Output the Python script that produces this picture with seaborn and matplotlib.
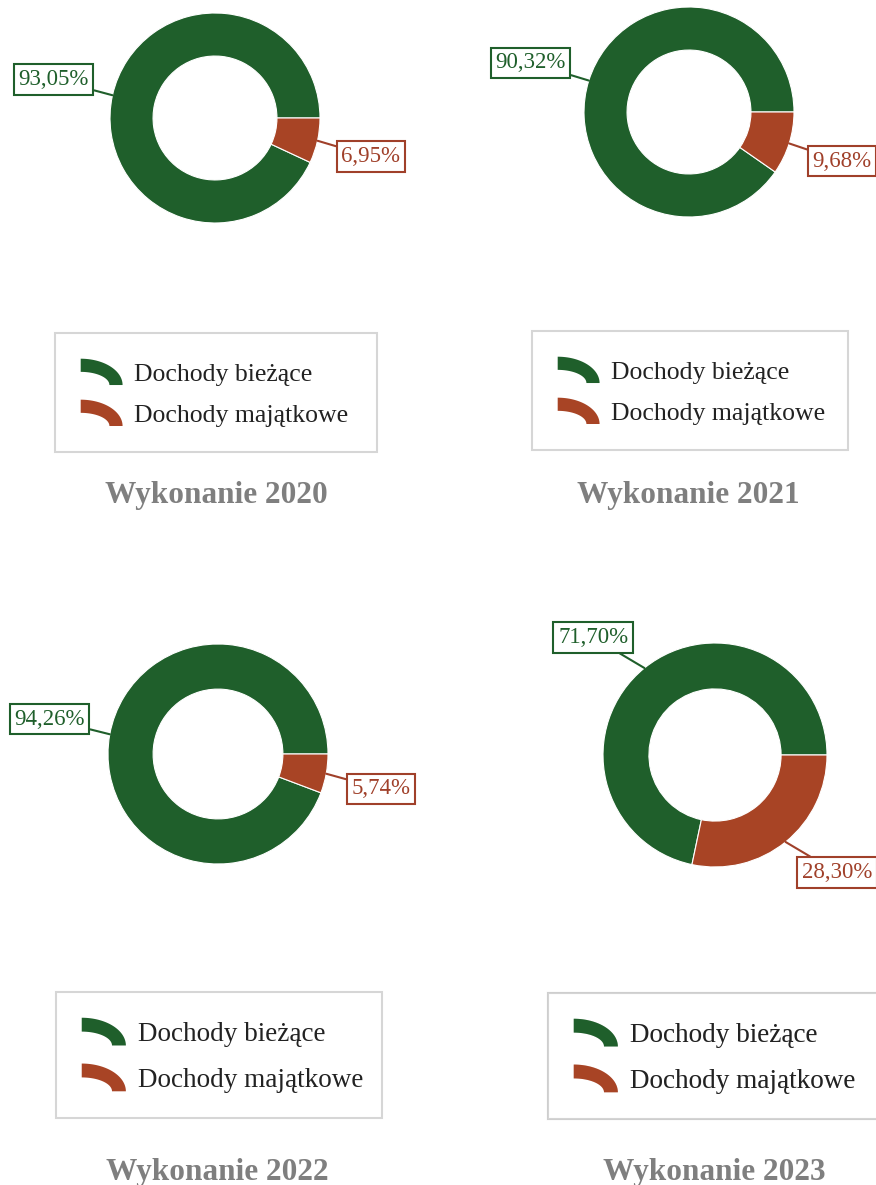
import numpy as np
import matplotlib
matplotlib.use("Agg")
import matplotlib.pyplot as plt
import matplotlib.patches as mpatches
from matplotlib.legend_handler import HandlerPatch
import seaborn as sns

sns.set_theme(style="white")
plt.rcParams['font.family'] = ['Liberation Serif', 'DejaVu Serif']

# data
years = ['2020', '2021', '2022', '2023']
dochody_biezace = [93.05, 90.32, 94.26, 71.70]
dochody_majatkowe = [6.95, 9.68, 5.74, 28.30]
series_names = ['Dochody bieżące', 'Dochody majątkowe']
colors = ['#1f5f2b', '#a84425']
label_colors = ['#1f5f2b', '#a0402a']

# layout (pixels, y from top)
W, H = 876, 1185
centers = [(215, 118), (689, 112), (218, 754), (715, 755)]
radii = [105, 105, 110, 112]
legend_boxes = [(55, 333, 322), (532, 331, 316), (56, 992, 326), (548, 993, 340)]
legend_fs = [18.5, 18.5, 19.5, 19.5]
legend_pad = [1.0, 1.0, 0.95, 0.95]
legend_spacing = [0.55, 0.55, 0.62, 0.62]
title_pos = [(216, 503), (688, 503), (217, 1180), (714, 1180)]


def arc_patch(legend, orig_handle, xdescent, ydescent, width, height, fontsize):
    # quarter ring icon used in the legend
    t = np.linspace(0, np.pi / 2, 40)
    x0, y0 = -xdescent, -ydescent
    th = 0.5 * height
    outer = np.column_stack([x0 + width * np.cos(t), y0 + height * np.sin(t)])
    inner = np.column_stack([x0 + (width - th) * np.cos(t[::-1]),
                             y0 + (height - th) * np.sin(t[::-1])])
    return mpatches.Polygon(np.vstack([outer, inner]), closed=True)


fig = plt.figure(figsize=(W / 100, H / 100), dpi=100)
ax = fig.add_axes([0, 0, 1, 1])

for i, year in enumerate(years):
    vals = [dochody_biezace[i], dochody_majatkowe[i]]
    cx, cy = centers[i]
    r = radii[i]
    wedges, _ = ax.pie(vals, colors=colors, radius=r, center=(cx, H - cy),
                       startangle=0, counterclock=True,
                       wedgeprops=dict(width=0.41 * r, edgecolor='white', linewidth=0.8))

    # value labels with leader lines
    for w, v, lc in zip(wedges, vals, label_colors):
        ang = np.deg2rad((w.theta1 + w.theta2) / 2)
        ca, sa = np.cos(ang), np.sin(ang)
        xy = (cx + r * ca, H - cy + r * sa)
        xt = (cx + 1.23 * r * ca, H - cy + 1.23 * r * sa)
        txt = f"{v:.2f}".replace('.', ',') + '%'
        ax.annotate(txt, xy=xy, xytext=xt,
                    ha='right' if ca < 0 else 'left',
                    va='bottom' if sa > 0 else 'top',
                    fontsize=16.5, color=lc, annotation_clip=False,
                    bbox=dict(boxstyle='square,pad=0.2', fc='white', ec=lc, lw=1.5),
                    arrowprops=dict(arrowstyle='-', color=lc, lw=1.5,
                                    shrinkA=0, shrinkB=0))

    # legend
    lx, ly, lw = legend_boxes[i]
    handles = [mpatches.Patch(facecolor=c, edgecolor='none', label=n)
               for c, n in zip(colors, series_names)]
    leg = ax.legend(handles=handles, loc='upper left',
                    bbox_to_anchor=(lx, H - ly - 200, lw, 200),
                    bbox_transform=ax.transData, mode='expand',
                    borderaxespad=0, fontsize=legend_fs[i],
                    handler_map={mpatches.Patch: HandlerPatch(patch_func=arc_patch)},
                    handlelength=1.63, handleheight=1.2, handletextpad=0.45,
                    labelspacing=legend_spacing[i], borderpad=legend_pad[i],
                    frameon=True, fancybox=False)
    leg.get_frame().set_edgecolor('#cccccc')
    leg.get_frame().set_linewidth(1.5)
    for t in leg.get_texts():
        t.set_color('#222222')
    ax.add_artist(leg)

    # title under the legend
    tx, ty = title_pos[i]
    ax.text(tx, H - ty, 'Wykonanie ' + year, ha='center', va='baseline',
            fontsize=22.5, fontweight='bold', color='#7f7f7f')

ax.set_xlim(0, W)
ax.set_ylim(0, H)
ax.set_position([0, 0, 1, 1])
ax.axis('off')

fig.savefig('out.png', dpi=100)
